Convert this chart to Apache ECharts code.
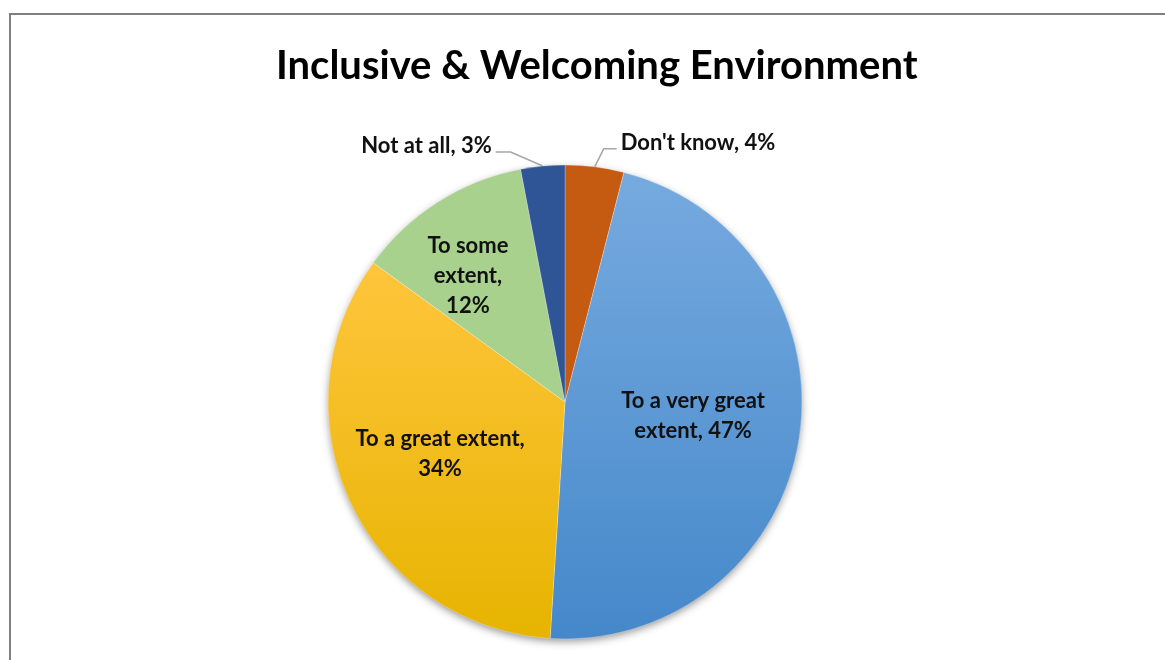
<!DOCTYPE html>
<html>
<head>
<meta charset="utf-8">
<script src="https://cdn.jsdelivr.net/npm/echarts@6/dist/echarts.min.js"></script>
<style>html,body{margin:0;padding:0;background:#fff;}#chart{width:1165px;height:660px;}</style>
</head>
<body>
<div id="chart"></div>
<script>
const titleText = "Inclusive & Welcoming Environment";
const categories = ["Don't know", "To a very great extent", "To a great extent", "To some extent", "Not at all"];
const values = [4, 47, 34, 12, 3];
const labelTexts = ["Don't know, 4%", "To a very great\nextent, 47%", "To a great extent,\n34%", "To some\nextent,\n12%", "Not at all, 3%"];

const colors = [
  '#C55A11',
  {type:'linear',x:0,y:0,x2:0,y2:1,colorStops:[{offset:0,color:'#76AADF'},{offset:1,color:'#4588CA'}]},
  {type:'linear',x:0,y:0,x2:0,y2:1,colorStops:[{offset:0,color:'#FFC53C'},{offset:1,color:'#E6B400'}]},
  '#A9D18E',
  '#2F5597'
];
const outside = [true, false, false, false, true];
const labelShift = [[0,0],[8,-5],[-15,0],[-32,-24],[0,0]];
// leader line bends, relative to the slice edge point: [dx1, dy1, horizontal length]
const leaderBend = [[9,-18,13],null,null,null,[-32,-14,15]];

const chart = echarts.init(document.getElementById('chart'));
const data = categories.map((c,i)=>({
  name: c,
  value: values[i],
  itemStyle: {color: colors[i]},
  label: outside[i] ? {position:'outside', formatter: labelTexts[i], fontSize:22} : {position:'inside', formatter: labelTexts[i], fontSize:22, lineHeight:30},
  labelLine: {show: outside[i]}
}));
const total = values.reduce((a,b)=>a+b,0);

chart.setOption({
  backgroundColor:'#ffffff',
  animation:false,
  title:{
    text:titleText, left:271, top:41,
    textStyle:{fontFamily:'Lato', fontWeight:'bold', fontSize:40, color:'#000'}
  },
  graphic:[{type:'rect', shape:{x:10,y:14,width:1200,height:700}, style:{fill:'none', stroke:'#808080', lineWidth:2}, z:-1}],
  series:[{
    type:'pie',
    silent:true,
    z:1,
    center:[565,402],
    radius:[0,236],
    data:[{value:total, itemStyle:{color:'#ffffff', shadowBlur:8, shadowOffsetY:3, shadowColor:'rgba(0,0,0,0.45)'}}],
    label:{show:false}, labelLine:{show:false}
  },{
    type:'pie',
    z:2,
    center:[565,402],
    radius:[0,237],
    startAngle:90,
    clockwise:true,
    data:data,
    itemStyle:{borderColor:'rgba(255,255,255,0.5)', borderWidth:0.5},
    label:{fontFamily:'Lato', fontWeight:'bold', color:'#111', align:'center'},
    labelLine:{length:18, length2:24, lineStyle:{color:'#A6A6A6', width:1.5}},
    labelLayout:function(p){
      const i = p.dataIndex;
      const b = leaderBend[i];
      if (b && p.labelLinePoints) {
        const p0 = p.labelLinePoints[0];
        const p1 = [p0[0]+b[0], p0[1]+b[1]];
        const dir = b[0] < 0 ? -1 : 1;
        const p2 = [p1[0]+dir*b[2], p1[1]];
        return {
          x: p2[0] + dir*4, y: p2[1] - 6,
          align: dir < 0 ? 'right' : 'left', verticalAlign:'middle',
          labelLinePoints:[p0,p1,p2]
        };
      }
      const s = labelShift[i];
      return {dx:s[0], dy:s[1]};
    }
  }]
});
</script>
</body>
</html>
